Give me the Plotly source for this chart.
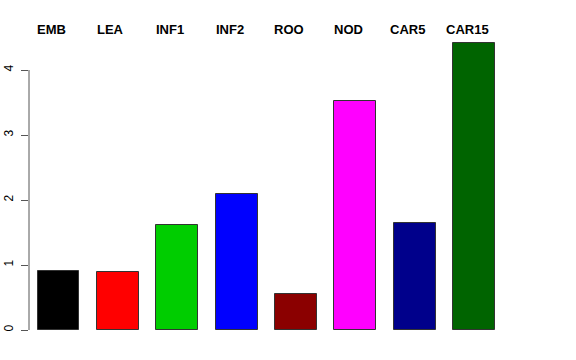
import plotly.graph_objects as go

categories = ["EMB", "LEA", "INF1", "INF2", "ROO", "NOD", "CAR5", "CAR15"]
values = [0.91, 0.89, 1.62, 2.09, 0.55, 3.53, 1.65, 4.42]
colors = ["#000000", "#FF0000", "#00CD00", "#0000FF", "#8B0000", "#FF00FF", "#00008B", "#006400"]
y_ticks = [0, 1, 2, 3, 4]

xpos = list(range(len(categories)))

fig = go.Figure()
fig.add_trace(go.Bar(
    x=xpos, y=values, width=0.707,
    marker=dict(color=colors, line=dict(color="#333333", width=1)),
    hoverinfo="skip",
))

for i, c in enumerate(categories):
    fig.add_annotation(x=i, y=1.0239, xref="x", yref="paper", text="<b>%s</b>" % c,
                       showarrow=False, xshift=-7, yanchor="middle", xanchor="center",
                       font=dict(family="Liberation Sans, Arial", size=13, color="black"))

# R style y-axis line spanning only the tick range
fig.add_shape(type="line", xref="paper", yref="y", x0=0, x1=0, y0=0, y1=4,
              line=dict(color="#555555", width=1))

fig.update_layout(
    width=576, height=360,
    margin=dict(l=29, r=16, t=37, b=30, autoexpand=False),
    paper_bgcolor="white", plot_bgcolor="white",
    showlegend=False,
    bargap=0,
    xaxis=dict(range=[-0.4966, 8.443], showticklabels=False, showgrid=False,
               zeroline=False, showline=False, ticks="", automargin=False),
    yaxis=dict(range=[0, 4.5077], tickvals=y_ticks, ticktext=[str(v) for v in y_ticks],
               ticks="outside", ticklen=7, tickcolor="#555555", tickwidth=1,
               tickangle=-90, showgrid=False, zeroline=False, showline=False,
               automargin=False, ticklabelstandoff=3,
               tickfont=dict(family="Liberation Sans, Arial", size=12, color="black")),
)

fig.write_html("out.html", config={"displayModeBar": False},
               post_script="document.body.style.margin='0';")
